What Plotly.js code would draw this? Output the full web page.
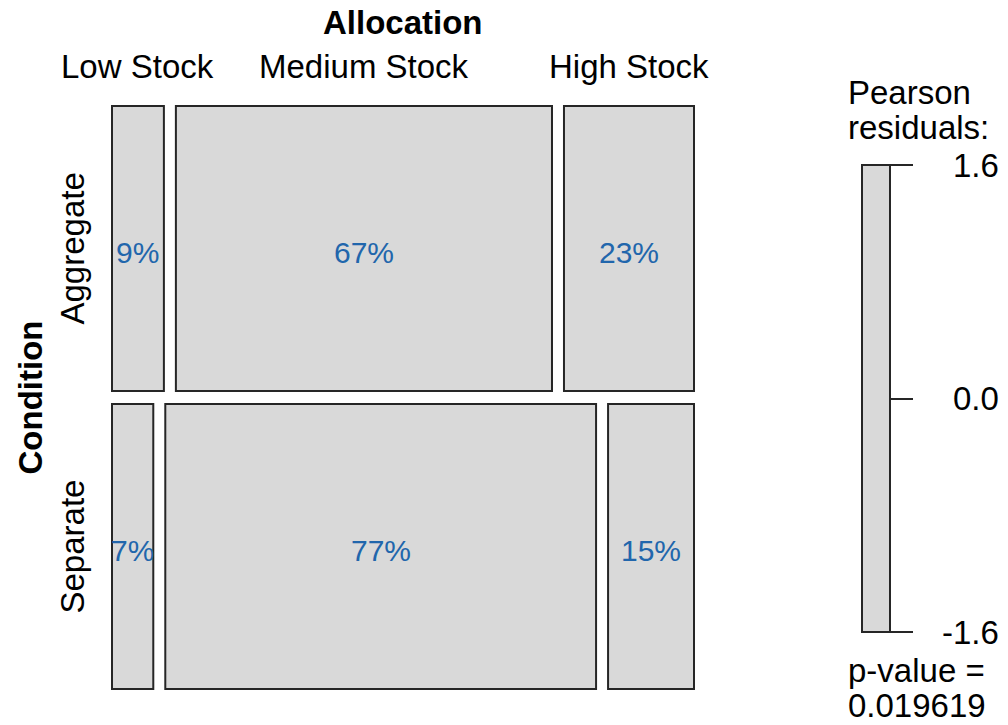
<!DOCTYPE html>
<html>
<head>
<meta charset="utf-8">
<script src="https://cdn.plot.ly/plotly-3.0.1.min.js"></script>
<style>html,body{margin:0;padding:0;background:#fff;}#chart{width:1008px;height:725px;}</style>
</head>
<body>
<div id="chart"></div>
<script>
// ---- data ----
const allocation = ['Low Stock', 'Medium Stock', 'High Stock'];
const conditions = ['Aggregate', 'Separate'];
const conditionShare = [50, 50];            // % of observations per condition (row heights)
const aggregatePct = [9.3, 67.4, 23.3];     // % within Aggregate
const separatePct = [7.4, 77.2, 15.4];      // % within Separate
const residualTicks = [-1.6, 0.0, 1.6];
const residualLabels = ['-1.6', '0.0', '1.6'];
const pValueText = '0.019619';

// ---- build mosaic ----
const rows = [aggregatePct, separatePct];
const gapX = 2.15, gapY = 2.28;
const FONT = 'Liberation Sans, Arial, Helvetica, sans-serif';
const W = 1008, H = 725;

const barX = [], barBase = [], barY = [], barW = [];
const cells = [];
const rowCenters = [];
const colCentersTop = [];
let y0 = 0;
rows.forEach((vals, i) => {
  const h = conditionShare[i];
  const yc = y0 + h / 2;
  rowCenters.push(yc);
  let x0 = 0;
  vals.forEach((v, j) => {
    barX.push(v); barBase.push(x0); barY.push(yc); barW.push(h);
    cells.push({ x: x0 + v / 2, y: yc, t: Math.round(v) + '%' });
    if (i === 0) colCentersTop.push(x0 + v / 2);
    x0 += v + gapX;
  });
  y0 += h + gapY;
});
const Tx = 100 + gapX * (allocation.length - 1);
const Ty = 100 + gapY * (conditions.length - 1);

// pixel layout of mosaic area (boxes from 112..694, 106..689) with 2px padding
const uX = Tx / 582, uY = Ty / 583;
const xDom = [110 / W, 696 / W];
const yDom = [1 - 691 / H, 1 - 104 / H];

// legend bar pixel layout: 862..890, 165..632
const rMin = Math.min(...residualTicks), rMax = Math.max(...residualTicks);
const uL = (rMax - rMin) / 467;
const uLx = 1 / 28;

const traces = [
  {
    type: 'bar', orientation: 'h', x: barX, base: barBase, y: barY, width: barW,
    marker: { color: '#d9d9d9', line: { color: '#262626', width: 2 } },
    hoverinfo: 'skip', showlegend: false, xaxis: 'x', yaxis: 'y'
  },
  {
    type: 'bar', x: [0.5], base: [rMin], y: [rMax - rMin], width: [1],
    marker: { color: '#d9d9d9', line: { color: '#262626', width: 2 } },
    hoverinfo: 'skip', showlegend: false, xaxis: 'x2', yaxis: 'y2'
  }
];

const annotations = [];
const fnt = (size, color) => ({ family: FONT, size: size, color: color || '#000' });
// cell percentage labels
cells.forEach(c => {
  annotations.push({ text: c.t, xref: 'x', x: c.x, yref: 'y', y: c.y, yshift: -4,
    xanchor: 'center', yanchor: 'middle', showarrow: false, font: fnt(30, '#2166ac') });
});
// column labels
allocation.forEach((a, j) => {
  annotations.push({ text: a, xref: 'x', x: colCentersTop[j], yref: 'paper', y: 1 - 66 / H,
    xanchor: 'center', yanchor: 'middle', showarrow: false, font: fnt(33) });
});
// row labels
conditions.forEach((c, i) => {
  annotations.push({ text: c, xref: 'paper', x: 72 / W, yref: 'y', y: rowCenters[i],
    xanchor: 'center', yanchor: 'middle', textangle: -90, showarrow: false, font: fnt(33) });
});
// variable names
annotations.push({ text: '<b>Allocation</b>', xref: 'x', x: Tx / 2, yref: 'paper', y: 1 - 23 / H,
  xanchor: 'center', yanchor: 'middle', showarrow: false, font: fnt(33) });
annotations.push({ text: '<b>Condition</b>', xref: 'paper', x: 30 / W, yref: 'y', y: Ty / 2,
  xanchor: 'center', yanchor: 'middle', textangle: -90, showarrow: false, font: fnt(33) });
// legend tick labels
residualTicks.forEach((t, k) => {
  annotations.push({ text: residualLabels[k], xref: 'paper', x: 1001 / W, yref: 'y2', y: t,
    xanchor: 'right', yanchor: 'middle', showarrow: false, font: fnt(33) });
});
// legend title & p-value
[['Pearson', 92], ['residuals:', 127], ['p-value =', 670], [pValueText, 705]].forEach(([t, py]) => {
  annotations.push({ text: t, xref: 'paper', x: 846 / W, yref: 'paper', y: 1 - py / H,
    xanchor: 'left', yanchor: 'middle', showarrow: false, font: fnt(33) });
});

const layout = {
  width: W, height: H,
  margin: { l: 0, r: 0, t: 0, b: 0, pad: 0 },
  paper_bgcolor: '#fff', plot_bgcolor: 'rgba(0,0,0,0)',
  showlegend: false, barmode: 'overlay',
  font: { family: FONT },
  xaxis: { domain: xDom, range: [-2 * uX, Tx + 2 * uX], visible: false, fixedrange: true },
  yaxis: { domain: yDom, range: [Ty + 2 * uY, -2 * uY], visible: false, fixedrange: true },
  xaxis2: { domain: [860 / W, 892 / W], range: [-2 * uLx, 1 + 2 * uLx], visible: false, anchor: 'y2', fixedrange: true },
  yaxis2: { domain: [1 - 634 / H, 1 - 163 / H], range: [rMin - 2 * uL, rMax + 2 * uL],
    anchor: 'free', position: 890 / W, side: 'right',
    showgrid: false, zeroline: false, showline: false, showticklabels: false,
    ticks: 'outside', ticklen: 22, tickwidth: 2, tickcolor: '#262626',
    tickvals: residualTicks, fixedrange: true },
  annotations: annotations
};

Plotly.newPlot('chart', traces, layout, { displayModeBar: false, staticPlot: true });
</script>
</body>
</html>
